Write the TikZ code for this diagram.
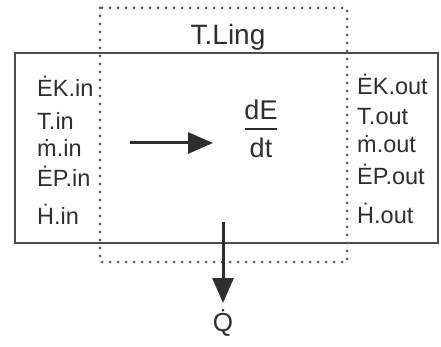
\documentclass[tikz,border=0pt]{standalone}
\usepackage{fontspec}
\setmainfont{Liberation Sans}
\usetikzlibrary{arrows.meta}
\definecolor{inchiostro}{HTML}{2E2E2E}
\tikzset{
  etichetta/.style={anchor=base west, inner sep=0pt, text=inchiostro, font=\fontsize{23.5}{27}\selectfont},
  freccia/.style={->, line width=3pt, inchiostro, >={Triangle[length=25pt,width=21pt]}}
}
\begin{document}
\begin{tikzpicture}[x=1pt, y=-1pt]
        \useasboundingbox (0,0) rectangle (441,347);
        
        % Sistema
        \draw[line width=2pt, inchiostro!85] (15,53) rectangle (438,243);
        
        % Volume di controllo
        \draw[line width=3pt, inchiostro!80, dash pattern=on 0pt off 8pt, line cap=round] (100,8) rectangle (347,262);
        \node[anchor=base, inner sep=0pt, text=inchiostro, font=\fontsize{28}{32}\selectfont] (titolo) at (228,45) {T.Ling};
        
        % Ingressi
        \node[etichetta] (ekin) at (37,97) {\.{E}K.in};
        \node[etichetta] (tin) at (37,130) {T.in};
        \node[etichetta] (min) at (37,157) {\.{m}.in};
        \node[etichetta] (epin) at (37,187) {\.{E}P.in};
        \node[etichetta] (hin) at (37,225) {\.{H}.in};
        
        % Uscite
        \node[etichetta] (ekout) at (357,95) {\.{E}K.out};
        \node[etichetta] (tout) at (357,125) {T.out};
        \node[etichetta] (mout) at (357,153) {\.{m}.out};
        \node[etichetta] (epout) at (357,185) {\.{E}P.out};
        \node[etichetta] (hout) at (357,223) {\.{H}.out};
        
        % Variazione di energia
        \node[anchor=base, inner sep=0pt, text=inchiostro, font=\fontsize{27}{30}\selectfont] (dE) at (261,120) {dE};
        \node[anchor=base, inner sep=0pt, text=inchiostro, font=\fontsize{27}{30}\selectfont] (dt) at (261,158) {dt};
        \draw[line width=2.4pt, inchiostro] (245,129) -- (277,129);
        
        % Frecce
        \coordinate (inizio) at (130,143);
        \coordinate (fine) at (213,143);
        \draw[freccia] (inizio) -- (fine);
        
        \coordinate (sorgente) at (223,222);
        \node[anchor=north, inner sep=0pt, text=inchiostro, font=\fontsize{26}{30}\selectfont] (Q) at (223,309) {\.{Q}};
        \draw[freccia, shorten >=6pt] (sorgente) -- (Q.north);
        
\end{tikzpicture}
\end{document}
